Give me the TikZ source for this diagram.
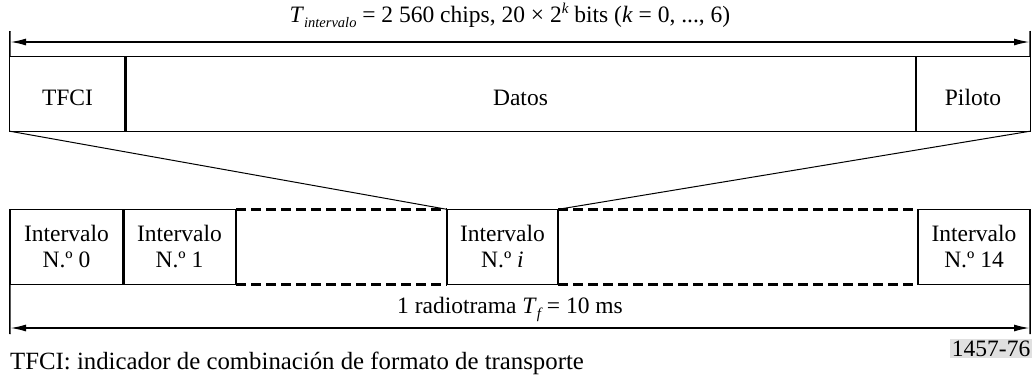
\documentclass[tikz,border=0pt]{standalone}
\usepackage{fontspec}
\setmainfont{Liberation Serif}
\usetikzlibrary{arrows.meta}
\begin{document}
\begin{tikzpicture}[x=1pt,y=-1pt,
  font=\fontsize{23.5}{26}\selectfont,
  cell/.style={inner sep=0pt, align=center},
  topcell/.style={inner sep=0pt, text height=22pt, text depth=0pt},
  thinln/.style={line width=1pt},
  midln/.style={line width=1.5pt},
  thickln/.style={line width=2.6pt},
  dashln/.style={line width=2.6pt, dash pattern=on 10pt off 5pt},
  arr/.style={line width=1.8pt, {Latex[length=16pt,width=7pt]}-{Latex[length=16pt,width=7pt]}},
]
\useasboundingbox (0,0) rectangle (1034,376);
% top frame
\node[topcell, minimum width=115pt, minimum height=74pt] (tfci) at (67.5,94) {TFCI};
\node[topcell, minimum width=791pt, minimum height=74pt] (datos) at (520.5,94) {Datos};
\node[topcell, minimum width=114pt, minimum height=74pt] (piloto) at (973,94) {Piloto};
\draw[thinln] (tfci.north west) rectangle (piloto.south east);
\draw[thickln] (tfci.north east) -- (tfci.south east);
\draw[thickln] (piloto.north west) -- (piloto.south west);
% top dimension
\coordinate (tl) at (10,31);
\coordinate (tr) at (1030,31);
\coordinate (tal) at (10,42);
\coordinate (tar) at (1030,42);
\draw[midln] (tl) -- (tfci.north west);
\draw[midln] (tr) -- (piloto.north east);
\draw[arr] (tal) -- (tar);
\node (tlabel) at (510,15) {\textit{T}\raisebox{-5pt}{\fontsize{14.5}{15}\selectfont\itshape intervalo} = 2 560 chips, 20 × 2\raisebox{9pt}{\fontsize{15}{15}\selectfont\itshape k} bits (\textit{k} = 0, ..., 6)};
% bottom slots
\node[cell, minimum width=113pt, minimum height=75pt] (b0) at (66.5,247) {Intervalo\\N.º 0};
\node[cell, minimum width=113pt, minimum height=75pt] (b1) at (179.5,247) {Intervalo\\N.º 1};
\node[cell, minimum width=111pt, minimum height=75pt] (bi) at (502.5,247) {Intervalo\\N.º \textit{i}};
\node[cell, minimum width=112pt, minimum height=75pt] (b14) at (974,247) {Intervalo\\N.º 14};
\draw[midln] (b0.north west) rectangle (b1.south east);
\draw[thickln] (b0.north east) -- (b0.south east);
\draw[midln] (bi.north west) rectangle (bi.south east);
\draw[midln] (b14.north west) rectangle (b14.south east);
\draw[dashln] (b1.north east) -- (bi.north west);
\draw[dashln] (b1.south east) -- (bi.south west);
\draw[dashln] (bi.north east) -- (b14.north west);
\draw[dashln] (bi.south east) -- (b14.south west);
% expansion lines
\draw[thinln] (tfci.south west) -- (bi.north west);
\draw[thinln] (piloto.south east) -- (bi.north east);
% bottom dimension
\coordinate (bl) at (10,334);
\coordinate (br) at (1030,334);
\coordinate (bal) at (10,328);
\coordinate (bar) at (1030,328);
\draw[midln] (b0.south west) -- (bl);
\draw[midln] (b14.south east) -- (br);
\draw[arr] (bal) -- (bar);
\node[anchor=base] (blabel) at (510,313) {1 radiotrama \textit{T}\raisebox{-5pt}{\fontsize{15}{15}\selectfont\itshape f} = 10 ms};
% caption
\node[anchor=base west, inner sep=0pt, font=\fontsize{24.8}{26}\selectfont] (cap) at (10,369) {TFCI: indicador de combinación de formato de transporte};
\node[anchor=base east, inner sep=1.5pt, fill=black!12] (code) at (1032,356) {1457-76};
\end{tikzpicture}
\end{document}
